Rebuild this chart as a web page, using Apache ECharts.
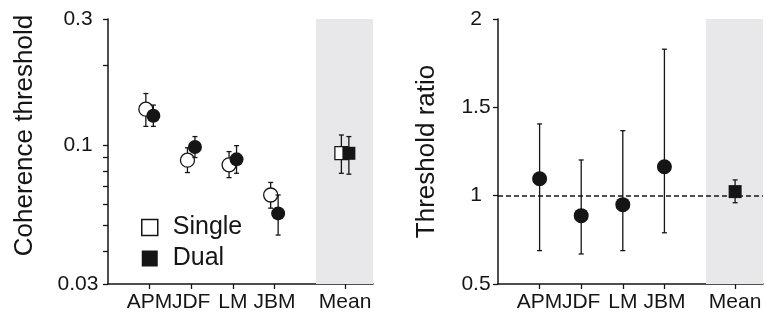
<!DOCTYPE html>
<html>
<head>
<meta charset="utf-8">
<script src="https://cdn.jsdelivr.net/npm/echarts@6/dist/echarts.min.js"></script>
<style>
html,body{margin:0;padding:0;background:#fff;}
#chart{width:766px;height:320px;}
</style>
</head>
<body>
<div id="chart"></div>
<script>
// ---- data ----
const categories = ['APM', 'JDF', 'LM', 'JBM', 'Mean'];
const singleVal = [0.137, 0.088, 0.0845, 0.065, 0.0935];
const singleLo  = [0.118, 0.079, 0.0756, 0.058, 0.0785];
const singleHi  = [0.157, 0.098, 0.0948, 0.0725, 0.1095];
const dualVal   = [0.1295, 0.0986, 0.0886, 0.0554, 0.0934];
const dualLo    = [0.118, 0.090, 0.0785, 0.0459, 0.0779];
const dualHi    = [0.142, 0.108, 0.0998, 0.065, 0.108];
const ratioVal  = [1.096, 0.887, 0.949, 1.164, 1.023];
const ratioLo   = [0.689, 0.670, 0.689, 0.790, 0.960];
const ratioHi   = [1.406, 1.202, 1.368, 1.829, 1.089];
const leftTicks  = [0.03, 0.04, 0.05, 0.06, 0.07, 0.08, 0.09, 0.1, 0.2, 0.3];
const leftLabels = [0.03, 0.1, 0.3];
const rightLabels = [0.5, 1, 1.5, 2];

// ---- layout helpers ----
const xPos = [1, 2, 3, 4, 5.7];
const X_MAX = 6.37;
const BAND_START = 5.0;
const OFF = 0.09;
const lg = v => Math.log10(v);
const L_MIN = lg(leftLabels[0]);
const L_MAX = lg(leftLabels[leftLabels.length - 1]);
const FONT = "'Liberation Sans', Arial, Helvetica, sans-serif";
const INK = '#151515';
const GRAY = '#e8e8ea';

function nearest(arr, v) {
  let best = arr[0];
  arr.forEach(a => { if (Math.abs(a - v) < Math.abs(best - v)) best = a; });
  return best;
}
function catFormatter(v) {
  const i = xPos.indexOf(nearest(xPos, v));
  return categories[i];
}
function errRender(params, api) {
  const x = api.value(0);
  const top = api.coord([x, api.value(2)]);
  const bot = api.coord([x, api.value(1)]);
  const cw = 2.5;
  const st = { stroke: INK, lineWidth: 1.3 };
  return {
    type: 'group',
    children: [
      { type: 'line', shape: { x1: top[0], y1: top[1], x2: bot[0], y2: bot[1] }, style: st },
      { type: 'line', shape: { x1: top[0] - cw, y1: top[1], x2: top[0] + cw, y2: top[1] }, style: st },
      { type: 'line', shape: { x1: bot[0] - cw, y1: bot[1], x2: bot[0] + cw, y2: bot[1] }, style: st }
    ]
  };
}
const symFn = (val, params) => params.dataIndex === 4 ? 'rect' : 'circle';
const sizeFn = (val, params) => params.dataIndex === 4 ? 13 : 14;

// labels split over two overlaid axes so adjacent labels may touch (as in the reference)
const evenPos = xPos.filter((x, i) => i % 2 === 0);
const oddPos = xPos.filter((x, i) => i % 2 === 1);
function xAxisCfg(gi, main) {
  return {
    gridIndex: gi, type: 'value', min: 0, max: X_MAX, position: 'bottom', offset: 0,
    splitLine: { show: false },
    axisLine: { show: main, onZero: false, lineStyle: { color: INK, width: 1.5 } },
    axisTick: { show: main, customValues: xPos, length: 5, lineStyle: { color: INK, width: 1.3 } },
    axisLabel: { customValues: main ? evenPos : oddPos, formatter: catFormatter, fontSize: 21, color: INK, fontFamily: FONT, margin: 8 }
  };
}

const sx = xPos.map(x => x - OFF);
const dx = xPos.map(x => x + OFF);

const option = {
  animation: false,
  backgroundColor: '#fff',
  textStyle: { fontFamily: FONT },
  grid: [
    { left: 108, top: 19, width: 265, height: 265 },
    { left: 498, top: 19, width: 265, height: 265 }
  ],
  legend: {
    orient: 'vertical', left: 136, top: 210, itemWidth: 16, itemHeight: 16, itemGap: 6,
    selectedMode: false,
    textStyle: { fontSize: 25, color: INK, fontFamily: FONT, padding: [0, 0, 0, 10] },
    data: [
      { name: 'Single', icon: 'rect', itemStyle: { color: '#fff', borderColor: INK, borderWidth: 1.5 } },
      { name: 'Dual', icon: 'rect', itemStyle: { color: INK, borderWidth: 0 } }
    ]
  },
  xAxis: [xAxisCfg(0, true), xAxisCfg(1, true), xAxisCfg(0, false), xAxisCfg(1, false)],
  yAxis: [
    {
      gridIndex: 0, type: 'value', min: L_MIN, max: L_MAX,
      splitLine: { show: false },
      axisLine: { show: true, lineStyle: { color: INK, width: 1.5 } },
      axisTick: { show: true, customValues: leftTicks.map(lg), length: 5, lineStyle: { color: INK, width: 1.3 } },
      axisLabel: { customValues: leftLabels.map(lg), formatter: v => String(nearest(leftLabels, Math.pow(10, v))), fontSize: 21, color: INK, fontFamily: FONT, margin: 30, align: 'center' },
      name: 'Coherence threshold', nameLocation: 'middle', nameGap: 70,
      nameTextStyle: { fontSize: 26, color: INK, fontFamily: FONT, padding: [0, 0, 0, 32] }
    },
    {
      gridIndex: 1, type: 'value', min: 0.5, max: 2, interval: 0.5,
      splitLine: { show: false },
      axisLine: { show: true, lineStyle: { color: INK, width: 1.5 } },
      axisTick: { show: true, customValues: rightLabels, length: 5, lineStyle: { color: INK, width: 1.3 } },
      axisLabel: { customValues: rightLabels, formatter: v => String(nearest(rightLabels, v)), fontSize: 21, color: INK, fontFamily: FONT, margin: 22, align: 'center' },
      name: 'Threshold ratio', nameLocation: 'middle', nameGap: 58,
      nameTextStyle: { fontSize: 26, color: INK, fontFamily: FONT }
    }
  ],
  series: [
    {
      name: 'SingleErr', type: 'custom', xAxisIndex: 0, yAxisIndex: 0, z: 3,
      renderItem: errRender, encode: { x: 0, y: [1, 2] },
      data: sx.map((x, i) => [x, lg(singleLo[i]), lg(singleHi[i])]),
      markArea: {
        silent: true, itemStyle: { color: GRAY },
        data: [[{ xAxis: BAND_START, yAxis: L_MIN }, { xAxis: X_MAX, yAxis: L_MAX }]]
      }
    },
    {
      name: 'Single', type: 'scatter', xAxisIndex: 0, yAxisIndex: 0, z: 4,
      symbol: symFn, symbolSize: sizeFn,
      itemStyle: { color: '#fff', borderColor: INK, borderWidth: 1.3, opacity: 1 },
      data: sx.map((x, i) => [x, lg(singleVal[i])])
    },
    {
      name: 'DualErr', type: 'custom', xAxisIndex: 0, yAxisIndex: 0, z: 5,
      renderItem: errRender, encode: { x: 0, y: [1, 2] },
      data: dx.map((x, i) => [x, lg(dualLo[i]), lg(dualHi[i])])
    },
    {
      name: 'Dual', type: 'scatter', xAxisIndex: 0, yAxisIndex: 0, z: 6,
      symbol: symFn, symbolSize: sizeFn,
      itemStyle: { color: INK, opacity: 1 },
      data: dx.map((x, i) => [x, lg(dualVal[i])])
    },
    {
      name: 'RatioErr', type: 'custom', xAxisIndex: 1, yAxisIndex: 1, z: 3,
      renderItem: errRender, encode: { x: 0, y: [1, 2] },
      data: xPos.map((x, i) => [x, ratioLo[i], ratioHi[i]]),
      markArea: {
        silent: true, itemStyle: { color: GRAY },
        data: [[{ xAxis: BAND_START, yAxis: 0.5 }, { xAxis: X_MAX, yAxis: 2 }]]
      },
      markLine: {
        silent: true, symbol: ['none', 'none'], label: { show: false },
        lineStyle: { type: [5, 3], color: INK, width: 1.5 },
        data: [{ yAxis: 1 }]
      }
    },
    {
      name: 'Ratio', type: 'scatter', xAxisIndex: 1, yAxisIndex: 1, z: 6,
      symbol: symFn, symbolSize: (val, p) => p.dataIndex === 4 ? 13 : 15,
      itemStyle: { color: INK, opacity: 1 },
      data: xPos.map((x, i) => [x, ratioVal[i]])
    }
  ]
};

const chart = echarts.init(document.getElementById('chart'), null, { renderer: 'canvas' });
chart.setOption(option);
</script>
</body>
</html>
